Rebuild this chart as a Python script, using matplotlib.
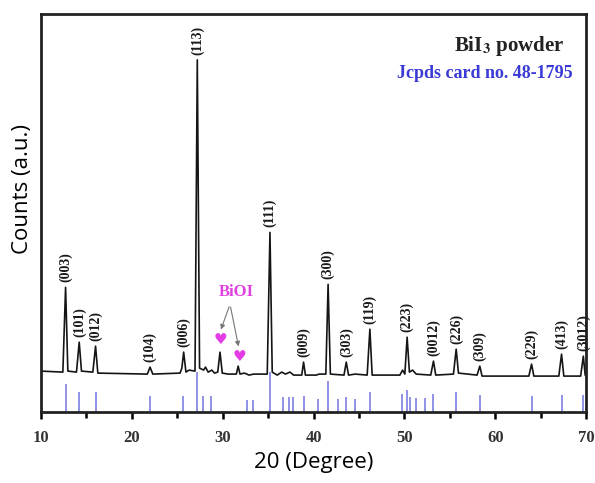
import matplotlib
matplotlib.use("Agg")
import matplotlib.pyplot as plt

# measured XRD trace (2theta, counts in arbitrary units)
trace_x = [10.0, 12.4, 12.7, 12.95, 13.9, 14.2, 14.45, 15.7, 16.0, 16.25,
           21.7, 22.0, 22.3, 25.3, 25.5, 25.7, 25.95, 26.3, 26.95, 27.2,
           27.45, 27.9, 28.1, 28.4, 28.8, 29.1, 29.45, 29.7, 29.95, 30.6,
           31.5, 31.7, 31.9, 32.4, 32.9, 33.4, 34.9, 35.2, 35.45, 36.0,
           36.5, 36.9, 37.4, 37.8, 38.7, 38.9, 39.1, 40.3, 40.6, 41.35,
           41.6, 41.85, 43.35, 43.6, 43.85, 44.6, 45.9, 46.2, 46.45, 49.5,
           49.8, 50.05, 50.3, 50.55, 50.9, 51.3, 52.9, 53.2, 53.45, 55.4,
           55.7, 55.95, 58.0, 58.3, 58.55, 63.7, 64.0, 64.25, 67.0, 67.3,
           67.55, 69.4, 69.7, 69.9, 70.0]
trace_y = [41, 40, 125, 41, 40, 70, 41, 40, 66, 39,
           38, 45, 38, 39, 44, 60, 40, 42, 41, 353,
           44, 42, 45, 40, 42, 39, 40, 60, 39, 38,
           38, 46, 38, 39, 37, 38, 38, 180, 40, 37,
           40, 38, 40, 37, 37, 50, 37, 37, 38, 38,
           128, 38, 37, 50, 37, 38, 37, 83, 37, 37,
           42, 38, 75, 40, 42, 38, 37, 51, 37, 38,
           63, 39, 37, 46, 36, 36, 48, 36, 36, 58,
           36, 36, 56, 37, 36]

# JCPDS 48-1795 reference lines
ref_pos = [12.7, 14.2, 16.1, 22.0, 25.6, 27.2, 27.8, 28.7, 32.7, 33.3,
           35.2, 36.6, 37.3, 37.7, 39.0, 40.5, 41.6, 42.7, 43.6, 44.6,
           46.2, 49.7, 50.3, 50.6, 51.3, 52.3, 53.1, 55.7, 58.3, 64.0,
           67.3, 69.7]
ref_height = [28, 20, 20, 16, 16, 40, 16, 16, 12, 12,
              40, 15, 15, 15, 16, 13, 31, 13, 15, 13,
              20, 18, 22, 15, 14, 14, 18, 20, 17, 16,
              17, 17]

# peak indexing
peak_pos = [12.7, 14.2, 16.0, 22.0, 25.7, 27.2, 35.2, 38.9, 41.6, 43.6,
            46.2, 50.3, 53.2, 55.7, 58.3, 64.0, 67.3, 69.7]
peak_height = [125, 70, 66, 45, 60, 353, 180, 50, 128, 50,
               83, 75, 51, 63, 46, 48, 58, 56]
peak_label = ["(003)", "(101)", "(012)", "(104)", "(006)", "(113)", "(111)",
              "(009)", "(300)", "(303)", "(119)", "(223)", "(0012)", "(226)",
              "(309)", "(229)", "(413)", "(3012)"]

# BiOI impurity peaks
bioi_pos = [29.7, 31.8]
bioi_height = [73, 56]

serif = "Liberation Serif"
plt.rcParams["font.family"] = ["Open Sans", "DejaVu Sans"]

fig = plt.figure(figsize=(5.95, 4.83), dpi=100)
ax = fig.add_axes([0.069, 0.147, 0.916, 0.824])

ax.vlines(ref_pos, 0, ref_height, color="#7474e0", lw=1.1, zorder=1)
ax.plot(trace_x, trace_y, color="#151515", lw=1.2, zorder=2)

for x, h, lab in zip(peak_pos, peak_height, peak_label):
    ax.text(x, h + 5, lab, rotation=90, ha="center", va="bottom",
            fontsize=10, fontweight="bold", family=serif, color="#1a1a1a")

for x, h in zip(bioi_pos, bioi_height):
    ax.text(x, h, "\u2665", ha="center", va="center", fontsize=11,
            color="#e43ce4", family="DejaVu Sans")
    ax.annotate("", xy=(x, h + 7), xytext=(30.8, 108),
                arrowprops=dict(arrowstyle="-|>", color="#777777", lw=0.8,
                                mutation_scale=7))
ax.text(31.5, 120, "BiOI", ha="center", va="center", fontsize=12,
        fontweight="bold", family=serif, color="#e040e0")

ax.text(0.96, 0.92, r"BiI$_\mathbf{3}$ powder", transform=ax.transAxes,
        ha="right", va="center", fontsize=15, fontweight="bold",
        family=serif, color="#222222", math_fontfamily="stix")
ax.text(0.975, 0.85, "Jcpds card no. 48-1795", transform=ax.transAxes,
        ha="right", va="center", fontsize=13, fontweight="bold",
        family=serif, color="#3a3ad6")

ax.set_xlim(10, 70)
ax.set_ylim(0, 399)
ax.set_xticks([10, 20, 30, 40, 50, 60, 70])
ax.set_xticks([15, 25, 35, 45, 55, 65], minor=True)
ax.set_yticks([])
ax.tick_params(axis="x", which="major", direction="out", length=5, width=1.8,
               pad=8, labelsize=12)
ax.tick_params(axis="x", which="minor", direction="out", length=4, width=1.8)
for t in ax.get_xticklabels():
    t.set_family(serif)
    t.set_fontweight("bold")
    t.set_color("#333333")

for s in ax.spines.values():
    s.set_linewidth(2.0)
    s.set_color("#222222")

ax.set_xlabel("20 (Degree)", fontsize=16, labelpad=4)
ax.set_ylabel("Counts (a.u.)", fontsize=16)
ax.yaxis.set_label_coords(-0.014, 0.56)

fig.savefig("out.png", dpi=100)
